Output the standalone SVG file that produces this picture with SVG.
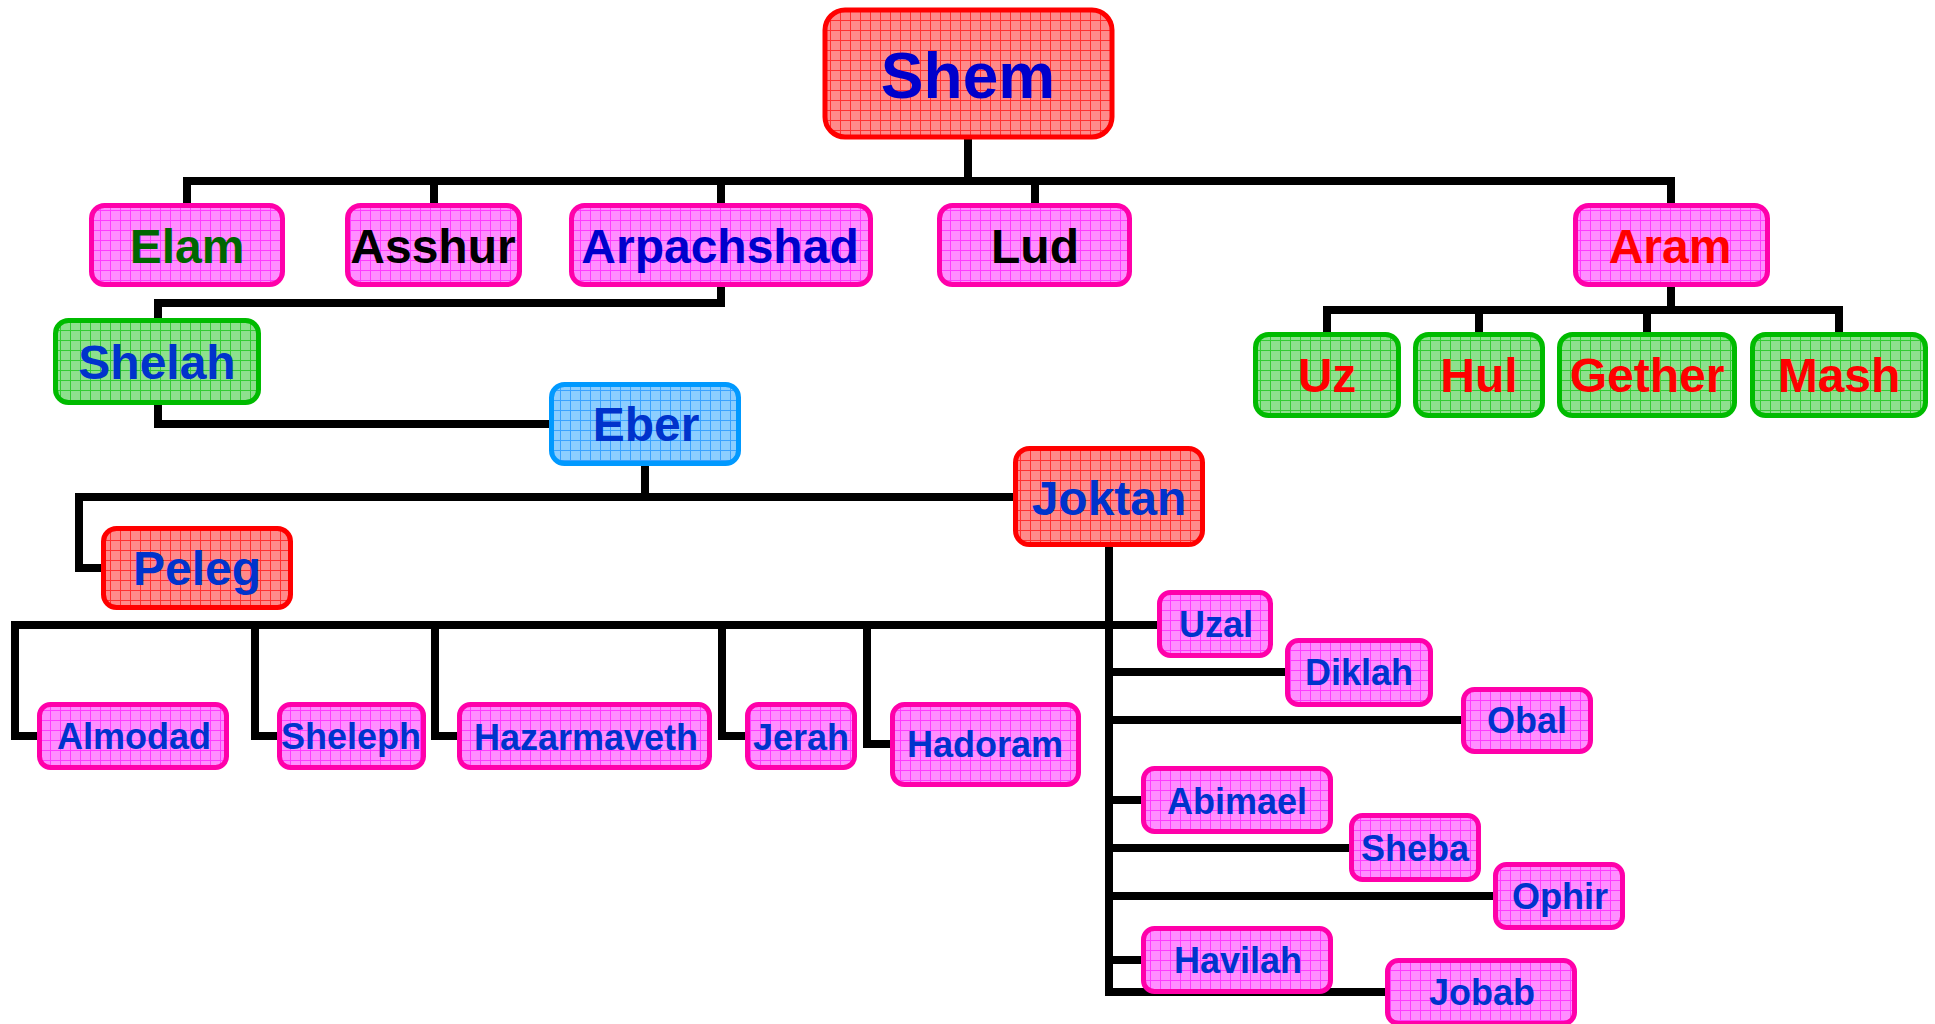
<svg xmlns="http://www.w3.org/2000/svg" width="1935" height="1024" viewBox="0 0 1935 1024">
<defs>
  <pattern id="gPink" patternUnits="userSpaceOnUse" width="10" height="10">
    <rect width="10" height="10" fill="#FF8EFF"/>
    <path d="M0,0.5H10M0.5,0V10" stroke="#FF3CFF" stroke-width="1"/>
  </pattern>
  <pattern id="gRed" patternUnits="userSpaceOnUse" width="10" height="10">
    <rect width="10" height="10" fill="#FF8A8A"/>
    <path d="M0,0.5H10M0.5,0V10" stroke="#FF3030" stroke-width="1"/>
  </pattern>
  <pattern id="gGreen" patternUnits="userSpaceOnUse" width="10" height="10">
    <rect width="10" height="10" fill="#8EE08E"/>
    <path d="M0,0.5H10M0.5,0V10" stroke="#33CC33" stroke-width="1"/>
  </pattern>
  <pattern id="gBlue" patternUnits="userSpaceOnUse" width="10" height="10">
    <rect width="10" height="10" fill="#8CCEFF"/>
    <path d="M0,0.5H10M0.5,0V10" stroke="#3AA2FF" stroke-width="1"/>
  </pattern>
</defs>
<style>
  .pink { fill: url(#gPink); stroke: #FF00AA; stroke-width: 5; }
  .red { fill: url(#gRed); stroke: #FF0000; stroke-width: 5; }
  .green { fill: url(#gGreen); stroke: #00BB00; stroke-width: 5; }
  .blue { fill: url(#gBlue); stroke: #0099FF; stroke-width: 5; }
  text { font-family: "Liberation Sans", Arial, sans-serif; font-weight: bold; text-anchor: middle; }
  .big { font-size: 48px; }
  .small { font-size: 36px; }
  .b { fill: #0033CC; }
  .db { fill: #0000CC; }
  .k { fill: #000000; }
  .r { fill: #FF0000; }
  .g { fill: #006600; }
  .conn path { fill: none; stroke: #000; stroke-width: 8; stroke-linejoin: miter; stroke-linecap: butt; }
</style>
<rect width="1935" height="1024" fill="#FFFFFF"/>
<g id="connectors" class="conn">
  <path d="M968,138 V181"/>
  <path d="M187,205 V181 H1671 V205"/>
  <path d="M434,181 V205"/>
  <path d="M721,181 V205"/>
  <path d="M1035,181 V205"/>
  <path d="M721,285 V303 H158 V320"/>
  <path d="M158,403 V424 H551"/>
  <path d="M645,464 V497"/>
  <path d="M1015,497 H79 V568 H103"/>
  <path d="M1109,545 V992 H1387"/>
  <path d="M37,736 H15 V625 H1159"/>
  <path d="M255,625 V736 H279"/>
  <path d="M435,625 V736 H459"/>
  <path d="M722,625 V736 H747"/>
  <path d="M867,625 V744 H892"/>
  <path d="M1109,672 H1287"/>
  <path d="M1109,720 H1463"/>
  <path d="M1109,800 H1143"/>
  <path d="M1109,848 H1351"/>
  <path d="M1109,896 H1495"/>
  <path d="M1109,960 H1143"/>
  <path d="M1671,285 V310"/>
  <path d="M1327,334 V310 H1839 V334"/>
  <path d="M1479,310 V334"/>
  <path d="M1647,310 V334"/>
</g>
<g id="shem"><rect class="red" x="825" y="10" width="287" height="127" rx="20" stroke-width="6"/><text class="db" x="968" y="98" font-size="64">Shem</text></g>
<g id="elam"><rect class="pink" x="91.5" y="205.5" width="191" height="79" rx="13"/><text class="big g" x="187" y="263">Elam</text></g>
<g id="asshur"><rect class="pink" x="347.5" y="205.5" width="172" height="79" rx="13"/><text class="big k" x="433" y="263">Asshur</text></g>
<g id="arpachshad"><rect class="pink" x="571.5" y="205.5" width="299" height="79" rx="13"/><text class="big db" x="720" y="263">Arpachshad</text></g>
<g id="lud"><rect class="pink" x="939.5" y="205.5" width="190" height="79" rx="13"/><text class="big k" x="1035" y="263">Lud</text></g>
<g id="aram"><rect class="pink" x="1575.5" y="205.5" width="192" height="79" rx="13"/><text class="big r" x="1670" y="263">Aram</text></g>
<g id="shelah"><rect class="green" x="55.5" y="320.5" width="203" height="82" rx="13"/><text class="big b" x="157" y="379">Shelah</text></g>
<g id="eber"><rect class="blue" x="551.5" y="384.5" width="187" height="79" rx="13"/><text class="big b" x="646" y="441">Eber</text></g>
<g id="joktan"><rect class="red" x="1015.5" y="448.5" width="187" height="96" rx="14"/><text class="big b" x="1109" y="515">Joktan</text></g>
<g id="peleg"><rect class="red" x="103.5" y="528.5" width="187" height="79" rx="13"/><text class="big b" x="197" y="585">Peleg</text></g>
<g id="uz"><rect class="green" x="1255.5" y="334.5" width="143" height="81" rx="13"/><text class="big r" x="1327" y="392">Uz</text></g>
<g id="hul"><rect class="green" x="1415.5" y="334.5" width="127" height="81" rx="13"/><text class="big r" x="1479" y="392">Hul</text></g>
<g id="gether"><rect class="green" x="1559.5" y="334.5" width="175" height="81" rx="13"/><text class="big r" x="1647" y="392">Gether</text></g>
<g id="mash"><rect class="green" x="1752.5" y="334.5" width="173" height="81" rx="13"/><text class="big r" x="1839" y="392">Mash</text></g>
<g id="almodad"><rect class="pink" x="39.5" y="704.5" width="187" height="63" rx="11"/><text class="small b" x="134" y="749">Almodad</text></g>
<g id="sheleph"><rect class="pink" x="279.5" y="704.5" width="144" height="63" rx="11"/><text class="small b" x="351" y="749">Sheleph</text></g>
<g id="hazarmaveth"><rect class="pink" x="459.5" y="704.5" width="250" height="63" rx="11"/><text class="small b" x="586" y="750">Hazarmaveth</text></g>
<g id="jerah"><rect class="pink" x="747.5" y="704.5" width="107" height="63" rx="11"/><text class="small b" x="801" y="750">Jerah</text></g>
<g id="hadoram"><rect class="pink" x="892.5" y="704.5" width="186" height="80" rx="12"/><text class="small b" x="985" y="757">Hadoram</text></g>
<g id="uzal"><rect class="pink" x="1159.5" y="592.5" width="111" height="63" rx="11"/><text class="small b" x="1216" y="637">Uzal</text></g>
<g id="diklah"><rect class="pink" x="1287.5" y="640.5" width="143" height="64" rx="11"/><text class="small b" x="1359" y="685">Diklah</text></g>
<g id="obal"><rect class="pink" x="1463.5" y="689.5" width="127" height="62" rx="11"/><text class="small b" x="1527" y="733">Obal</text></g>
<g id="abimael"><rect class="pink" x="1143.5" y="768.5" width="187" height="63" rx="11"/><text class="small b" x="1237" y="814">Abimael</text></g>
<g id="sheba"><rect class="pink" x="1351.5" y="815.5" width="127" height="64" rx="11"/><text class="small b" x="1415" y="861">Sheba</text></g>
<g id="ophir"><rect class="pink" x="1495.5" y="864.5" width="127" height="63" rx="11"/><text class="small b" x="1560" y="909">Ophir</text></g>
<g id="havilah"><rect class="pink" x="1143.5" y="928.5" width="187" height="63" rx="11"/><text class="small b" x="1238" y="973">Havilah</text></g>
<g id="jobab"><rect class="pink" x="1387.5" y="960.5" width="187" height="63" rx="11"/><text class="small b" x="1482" y="1005">Jobab</text></g>
</svg>
